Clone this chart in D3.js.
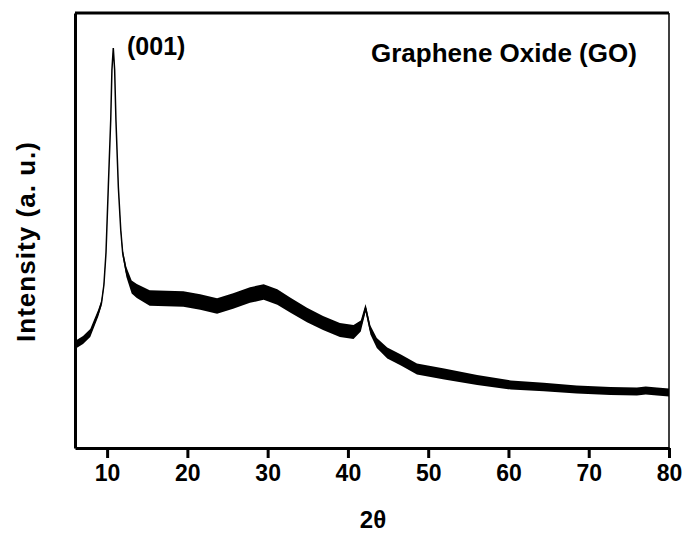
<!DOCTYPE html>
<html>
<head>
<meta charset="utf-8">
<script src="https://cdn.jsdelivr.net/npm/d3@7"></script>
<style>
body{margin:0;background:#fff;}
text{font-family:"Liberation Sans",Arial,sans-serif;font-weight:bold;fill:#000;}
</style>
</head>
<body>
<svg id="xrd"></svg>
<script>
// 2theta (deg)
const twoTheta=[6.0,7.0,7.9,8.9,9.3,9.6,9.86,10.15,10.45,10.6,10.77,10.94,11.1,11.4,11.7,11.94,12.4,13.06,13.7,
  15.3,17.4,19.5,21.6,23.7,25.7,27.8,29.5,31.2,32.8,34.9,36.9,39.0,40.7,41.6,42.2,42.8,43.6,44.9,46.6,48.6,
  52.0,56.1,60.3,64.4,68.5,72.7,76.0,77.1,78.5,80.0];
// intensity (counts, arbitrary)
const intensity=[1030,1080,1150,1350,1450,1630,1950,2610,3280,3780,4000,3780,3280,2610,2180,1950,1760,1610,1570,
  1500,1495,1490,1460,1420,1470,1530,1560,1510,1430,1330,1250,1180,1160,1220,1400,1180,1050,950,880,790,
  740,680,630,610,585,570,565,575,565,555];
// half width of the noise band (counts)
const noise=[40,40,40,35,30,20,12,6,6,6,6,6,6,12,25,35,50,65,70,
  78,78,78,78,78,78,78,78,78,75,72,70,70,70,55,40,45,50,55,55,55,
  55,50,45,42,40,40,40,40,40,40];
const xTicks=[10,20,30,40,50,60,70,80];

function xrdchart(){
    const width=688;
    const height=536;
    const svg=d3.select("#xrd")
        .attr("width",width)
        .attr("height",height);

    const x=d3.scaleLinear().domain([6,80]).range([75,669]);
    const y=d3.scaleLinear().domain([0,4350]).range([448,13]);

    const data=twoTheta.map(function(t,i){
        return {t:t,v:intensity[i],n:noise[i]};
    });

    // noise band
    const band=d3.area()
        .x(function(d){return x(d.t);})
        .y0(function(d){return y(d.v-d.n);})
        .y1(function(d){return y(d.v+d.n);});
    svg.append("path")
        .datum(data)
        .attr("d",band)
        .attr("fill","#000");

    const line=d3.line()
        .x(function(d){return x(d.t);})
        .y(function(d){return y(d.v);});
    svg.append("path")
        .datum(data)
        .attr("d",line)
        .attr("fill","none")
        .attr("stroke","#000")
        .attr("stroke-width",1.5);

    // frame: top and right
    svg.append("line")
        .attr("x1",x.range()[0]).attr("x2",x.range()[1])
        .attr("y1",y.range()[1]).attr("y2",y.range()[1])
        .attr("stroke","#000").attr("stroke-width",3);
    svg.append("line")
        .attr("x1",x.range()[1]).attr("x2",x.range()[1])
        .attr("y1",y.range()[1]).attr("y2",y.range()[0])
        .attr("stroke","#000").attr("stroke-width",1.5);

    // left axis, no ticks
    svg.append("g")
        .attr("transform","translate("+x.range()[0]+",0)")
        .call(d3.axisLeft(y).tickValues([]).tickSizeOuter(0))
        .select(".domain").attr("stroke-width",3);

    // bottom axis
    const xa=svg.append("g")
        .attr("transform","translate(0,"+y.range()[0]+")")
        .call(d3.axisBottom(x).tickValues(xTicks).tickSize(10).tickSizeOuter(0).tickPadding(7));
    xa.select(".domain").attr("stroke-width",3);
    xa.selectAll(".tick line").attr("stroke-width",3);
    xa.selectAll(".tick text")
        .style("font-family","'Liberation Sans',Arial,sans-serif")
        .style("font-weight","bold")
        .style("font-size","23px");

    svg.append("text")
        .attr("x",373).attr("y",528)
        .attr("text-anchor","middle")
        .style("font-size","24px")
        .text("2θ");

    svg.append("text")
        .attr("transform","translate(35,242) rotate(-90)")
        .attr("text-anchor","middle")
        .attr("textLength",200)
        .style("font-size","26px")
        .text("Intensity (a. u.)");

    svg.append("text")
        .attr("x",127).attr("y",55)
        .style("font-size","25px")
        .text("(001)");

    svg.append("text")
        .attr("x",371).attr("y",62)
        .style("font-size","26px")
        .text("Graphene Oxide (GO)");
}
xrdchart();
</script>
</body>
</html>
